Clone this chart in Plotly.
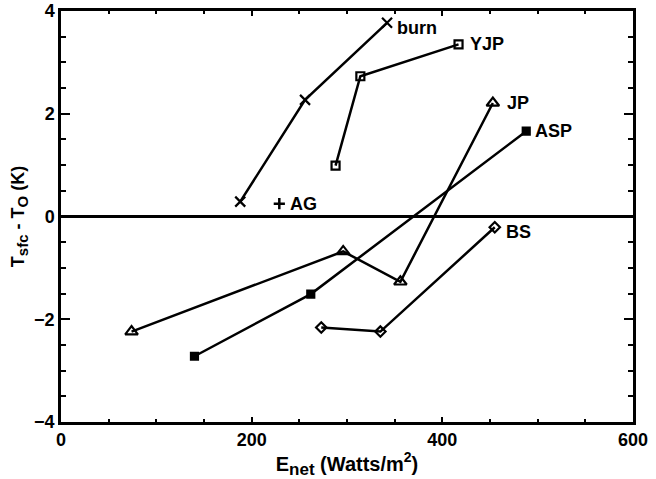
import plotly.graph_objects as go

# Data
burn_x = [188, 256, 342]
burn_y = [0.29, 2.27, 3.77]
yjp_x = [288, 314, 417]
yjp_y = [0.99, 2.73, 3.35]
jp_x = [74, 296, 356, 453]
jp_y = [-2.24, -0.68, -1.27, 2.21]
asp_x = [140, 262, 488]
asp_y = [-2.72, -1.51, 1.66]
bs_x = [273, 335, 455]
bs_y = [-2.16, -2.24, -0.21]
ag_x = [229]
ag_y = [0.25]

x_ticks = [0, 200, 400, 600]
y_ticks = [-4, -2, 0, 2, 4]

FONT = "Liberation Sans"
LBL = dict(family=FONT, size=18, color="black", weight="bold")

series = [
    ("burn", burn_x, burn_y, "x-thin-open", 10, 8, -5),
    ("YJP", yjp_x, yjp_y, "square-open", 8, 9, 0),
    ("JP", jp_x, jp_y, "triangle-up-open", 11, 12, 0),
    ("ASP", asp_x, asp_y, "square", 7, 7, 0),
    ("BS", bs_x, bs_y, "diamond-open", 8, 9, -5),
]

fig = go.Figure()
annotations = []
for name, xs, ys, sym, size, xsh, ysh in series:
    fig.add_trace(go.Scatter(
        x=xs, y=ys, mode="lines+markers", name=name,
        line=dict(color="black", width=2.5),
        marker=dict(symbol=sym, size=size, color="black",
                    line=dict(color="black", width=2.2)),
        showlegend=False,
    ))
    annotations.append(dict(
        x=xs[-1], y=ys[-1], xref="x", yref="y", text=name,
        showarrow=False, xanchor="left", yanchor="middle",
        xshift=xsh, yshift=ysh, font=LBL,
    ))

fig.add_trace(go.Scatter(
    x=ag_x, y=ag_y, mode="markers", name="AG",
    marker=dict(symbol="cross-thin", size=8, color="black",
                line=dict(color="black", width=2.5)),
    showlegend=False,
))
annotations.append(dict(
    x=ag_x[0], y=ag_y[0], xref="x", yref="y", text="AG",
    showarrow=False, xanchor="left", yanchor="middle", xshift=9, font=LBL,
))

axis_common = dict(
    showgrid=False, showline=True, linecolor="black", linewidth=2.5,
    mirror="ticks", ticks="inside", tickcolor="black", tickwidth=2,
    automargin=False,
    tickfont=dict(family=FONT, size=18, color="black", weight="bold"),
)

fig.update_layout(
    width=656, height=479,
    margin=dict(l=61, r=23, t=11, b=57),
    paper_bgcolor="white", plot_bgcolor="white",
    font=dict(family=FONT, color="black", weight="bold"),
    annotations=annotations,
    xaxis=dict(
        range=[0, 600], tickvals=x_ticks, ticklen=5,
        minor=dict(dtick=50, ticks="inside", ticklen=3, tickcolor="black", tickwidth=2),
        zeroline=False,
        title=dict(text="E<sub><span style='font-size:17px'>net</span></sub> (Watts/m<sup>2</sup>)",
                   font=dict(family=FONT, size=20, color="black", weight="bold"),
                   standoff=9),
        **axis_common,
    ),
    yaxis=dict(
        range=[-4, 4], tickvals=y_ticks, ticklen=9,
        minor=dict(dtick=0.5, ticks="inside", ticklen=5, tickcolor="black", tickwidth=2),
        zeroline=True, zerolinecolor="black", zerolinewidth=3,
        title=dict(text="T<sub><span style='font-size:15px'>sfc</span></sub> - T<sub><span style='font-size:15px'>O</span></sub> (K)",
                   font=dict(family=FONT, size=18, color="black", weight="bold"),
                   standoff=5),
        **axis_common,
    ),
)

fig.write_html("out.html", config={"displayModeBar": False},
               post_script="document.body.style.margin='0';")
